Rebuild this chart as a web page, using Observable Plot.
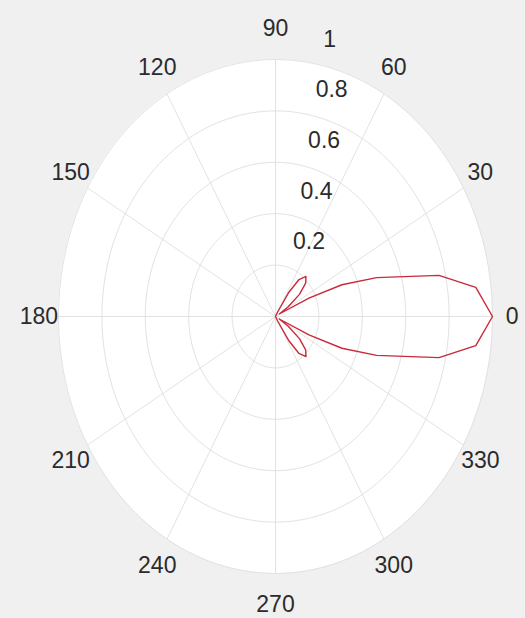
<!DOCTYPE html>
<html>
<head>
<meta charset="utf-8">
<script src="https://cdn.jsdelivr.net/npm/d3@7"></script>
<script src="https://cdn.jsdelivr.net/npm/@observablehq/plot@0.6"></script>
<style>
  html, body { margin: 0; padding: 0; background: #f0f0f0; }
  #chart svg { display: block; }
</style>
</head>
<body>
<div id="chart"></div>
<script>
// Radiation pattern (normalized magnitude) by angle in degrees
const patternAngles = [0, 7, 12, 18, 22, 25, 29, 33, 38, 43, 48, 53, 57, 61, 90, 180, 270,
  299, 303, 307, 312, 317, 322, 327, 331, 335, 338, 342, 348, 353, 360];
const patternRadii = [1.00, 0.93, 0.77, 0.49, 0.33, 0.17, 0.02, 0.07, 0.14, 0.19, 0.21, 0.18, 0.11, 0.02, 0, 0, 0,
  0.02, 0.11, 0.18, 0.21, 0.19, 0.14, 0.07, 0.02, 0.17, 0.33, 0.49, 0.77, 0.93, 1.00];

// Polar axes ticks
const ringTicks = [0.2, 0.4, 0.6, 0.8, 1];
const ringLabels = ["0.2", "0.4", "0.6", "0.8", "1"];
const angleTicks = [0, 30, 60, 90, 120, 150, 180, 210, 240, 270, 300, 330];
const angleLabels = ["0", "30", "60", "90", "120", "150", "180", "210", "240", "270", "300", "330"];
const rLabelAngle = 80;

const rad = (deg) => deg * Math.PI / 180;

const pattern = patternAngles.map((a, i) => ({angle: a, r: patternRadii[i]}));

// sampled angles for drawing the ring grid and the plot background
const sweep = d3.range(0, 361, 2);
const upperHalf = d3.range(0, 181, 2);
const rings = ringTicks.flatMap((r) => sweep.map((a) => ({r, angle: a})));

const W = 525, H = 618;
const cx = 275, cy = 316, rx = 217, ry = 257;

const gridColor = "#e2e2e2";
const textColor = "#2b2b2b";
const font = "'Liberation Sans', Arial, sans-serif";

const chart = Plot.plot({
  width: W,
  height: H,
  margin: 0,
  style: {background: "#f0f0f0", fontFamily: font},
  x: {domain: [-cx / rx, (W - cx) / rx], axis: null},
  y: {domain: [-(H - cy) / ry, cy / ry], axis: null},
  marks: [
    // white polar axes area
    Plot.areaY(upperHalf, {
      x: (a) => Math.cos(rad(a)),
      y1: (a) => -Math.sin(rad(a)),
      y2: (a) => Math.sin(rad(a)),
      fill: "white"
    }),
    // angular spokes
    Plot.link(angleTicks, {
      x1: () => 0, y1: () => 0,
      x2: (a) => Math.cos(rad(a)),
      y2: (a) => Math.sin(rad(a)),
      stroke: gridColor, strokeWidth: 1
    }),
    // radial rings
    Plot.line(rings, {
      x: (d) => d.r * Math.cos(rad(d.angle)),
      y: (d) => d.r * Math.sin(rad(d.angle)),
      z: "r",
      stroke: gridColor, strokeWidth: 1
    }),
    // pattern curve
    Plot.line(pattern, {
      x: (d) => d.r * Math.cos(rad(d.angle)),
      y: (d) => d.r * Math.sin(rad(d.angle)),
      stroke: "#c92a3c", strokeWidth: 1.4, strokeLinejoin: "round"
    }),
    // angle labels
    Plot.text(angleTicks, {
      x: (a) => 1.09 * Math.cos(rad(a)),
      y: (a) => 1.12 * Math.sin(rad(a)),
      text: (a, i) => angleLabels[i],
      fill: textColor, fontSize: 23, textAnchor: "middle"
    }),
    // radius labels
    Plot.text(ringTicks, {
      x: (r) => r * Math.cos(rad(rLabelAngle)),
      y: (r) => r * Math.sin(rad(rLabelAngle)),
      text: (r, i) => ringLabels[i],
      fill: textColor, fontSize: 23, textAnchor: "start",
      dx: 10, dy: -24
    })
  ]
});

document.getElementById("chart").append(chart);
</script>
</body>
</html>
